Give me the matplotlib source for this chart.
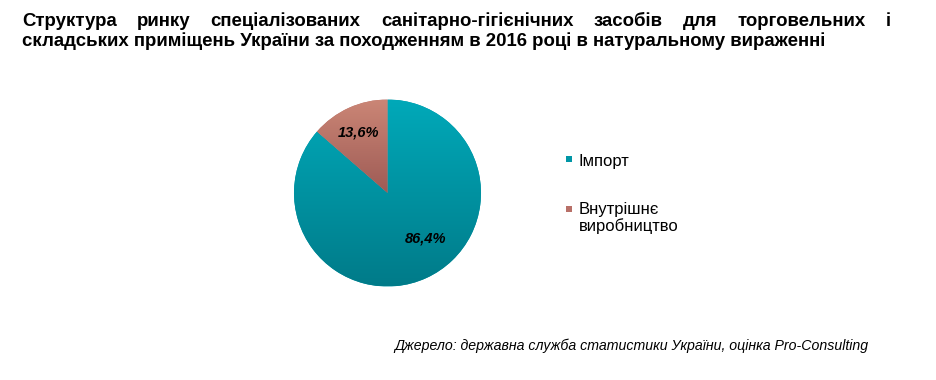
import matplotlib
matplotlib.use("Agg")
import matplotlib.pyplot as plt
import numpy as np
from matplotlib.colors import LinearSegmentedColormap
from matplotlib.patches import Rectangle

plt.rcParams['font.family'] = ['Liberation Sans', 'DejaVu Sans']

categories = ["Імпорт", "Внутрішнє\nвиробництво"]
values = [86.4, 13.6]
labels = ["86,4%", "13,6%"]
title_lines = [
    "Структура ринку спеціалізованих санітарно-гігієнічних засобів для торговельних і",
    "складських приміщень України за походженням в 2016 році в натуральному вираженні",
]
source = "Джерело: державна служба статистики України, оцінка Pro-Consulting"

grad_top = ["#00A9B9", "#CB8676"]
grad_bot = ["#007B89", "#9E5B55"]
solid = ["#0096A6", "#B87068"]

W, H = 936, 380
fig = plt.figure(figsize=(W / 100, H / 100), dpi=100)
fig.patch.set_facecolor("white")

# Pie axes
cx, cy, r = 387.5, 193.0, 93.5
ax = fig.add_axes([(cx - r) / W, (H - cy - r) / H, 2 * r / W, 2 * r / H])
wedges, _ = ax.pie(values, startangle=90, counterclock=False, radius=1,
                   colors=solid, wedgeprops=dict(linewidth=0))
ax.set_xlim(-1, 1)
ax.set_ylim(-1, 1)
ax.set_aspect("equal")
ax.axis("off")

grad = np.linspace(1, 0, 256).reshape(-1, 1)
for i, w in enumerate(wedges):
    cmap = LinearSegmentedColormap.from_list(f"g{i}", [grad_bot[i], grad_top[i]])
    ext = (-1, 1, -1, 1) if i == 0 else (-1, 1, 0, 1)
    im = ax.imshow(grad, cmap=cmap, extent=ext, aspect="auto", zorder=2,
                   interpolation="bilinear", vmin=0, vmax=1)
    im.set_clip_path(w)
ax.set_xlim(-1, 1)
ax.set_ylim(-1, 1)

def to_ax(px, py):
    return ((px - cx) / r, (cy - py) / r)

lab_pos = [(425.5, 238.5), (358.5, 132.5)]
for lab, (px, py) in zip(labels, lab_pos):
    x, y = to_ax(px, py)
    ax.text(x, y, lab, ha="center", va="center", fontsize=10.5,
            fontweight="bold", fontstyle="italic", color="black", zorder=5)

# Title, justified first line
renderer = fig.canvas.get_renderer()
left_px, right_px = 22, 891
base1, base2 = 26, 46
tsize = 13.4
words = title_lines[0].split()
texts = [fig.text(0, 1 - base1 / H, w_, fontsize=tsize, fontweight="bold",
                  va="baseline", ha="left") for w_ in words]
widths = [t.get_window_extent(renderer).width for t in texts]
gap = (right_px - left_px - sum(widths)) / (len(words) - 1)
x = left_px
for t, wd in zip(texts, widths):
    t.set_x(x / W)
    x += wd + gap
fig.text(left_px / W, 1 - base2 / H, title_lines[1], fontsize=tsize,
         fontweight="bold", va="baseline", ha="left")

# Legend
mark_y = [160, 209]
line_base = [[166], [214, 231]]
for i, cat in enumerate(categories):
    fig.patches.append(Rectangle((566 / W, 1 - (mark_y[i] + 2.5) / H), 6 / W, 6 / H,
                                 transform=fig.transFigure, facecolor=solid[i],
                                 edgecolor="none"))
    for ln, by in zip(cat.split("\n"), line_base[i]):
        fig.text(579 / W, 1 - by / H, ln, fontsize=12, va="baseline", ha="left")

# Source
fig.text(868 / W, 1 - 350 / H, source, fontsize=10.2, fontstyle="italic",
         ha="right", va="baseline")

fig.savefig("out.png", dpi=100, facecolor="white")
